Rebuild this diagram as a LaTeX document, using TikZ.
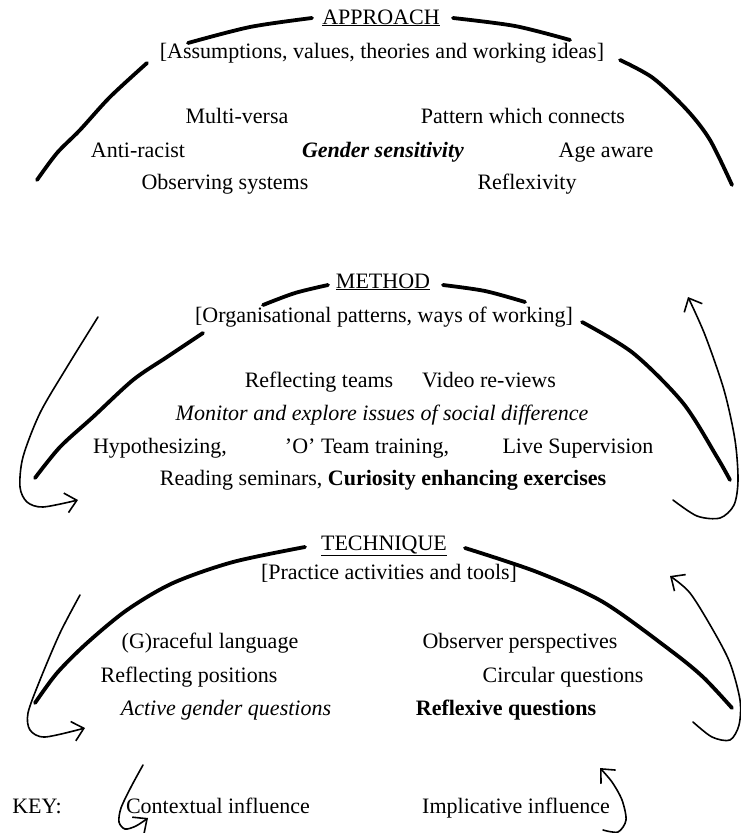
\documentclass[tikz,border=0pt]{standalone}
\usepackage{fontspec}
\setmainfont{Liberation Serif}
\usetikzlibrary{arrows.meta}
\tikzset{
  txt/.style={font=\fontsize{22}{26}\selectfont, inner sep=0pt, text height=15pt, text depth=5pt},
  arcline/.style={line width=3.8pt, line cap=round},
  infl/.style={line width=1.6pt, line cap=round, -{Straight Barb[length=11pt, width=20pt]}}
}
\begin{document}
\begin{tikzpicture}[x=1pt, y=-1pt]
  \useasboundingbox (0,0) rectangle (741,833);
  % approach
  \draw[arcline] plot[smooth] coordinates {(37,180) (57,153) (80,130) (110,97) (147,63)};
  \draw[arcline] plot[smooth] coordinates {(188,43) (250,27) (312,18)};
  \draw[arcline] plot[smooth] coordinates {(453,18) (515,26) (570,40)};
  \draw[arcline] plot[smooth] coordinates {(620,60) (653,78) (687,110) (710,140) (732,185)};
  \node[txt] (approach) at (381,19) {\underline{APPROACH}};
  \node[txt] (approachsub) at (382,53) {[Assumptions, values, theories and working ideas]};
  \node[txt] (multiversa) at (237,118) {Multi-versa};
  \node[txt] (pattern) at (523,118) {Pattern which connects};
  \node[txt] (antiracist) at (138,152) {Anti-racist};
  \node[txt] (gender) at (383,152) {\textbf{\textit{Gender sensitivity}}};
  \node[txt] (ageaware) at (606,152) {Age aware};
  \node[txt] (observing) at (225,184) {Observing systems};
  \node[txt] (reflexivity) at (527,184) {Reflexivity};
  % method
  \draw[arcline] plot[smooth] coordinates {(35,478) (60,447) (93,417) (133,380) (167,357) (203,333)};
  \draw[arcline] plot[smooth] coordinates {(263,305) (295,293) (328,285)};
  \draw[arcline] plot[smooth] coordinates {(443,285) (485,291) (525,302)};
  \draw[arcline] plot[smooth] coordinates {(582,322) (633,353) (683,403) (717,457) (730,480)};
  \node[txt] (method) at (383,283) {\underline{METHOD}};
  \node[txt] (methodsub) at (384,317) {[Organisational patterns, ways of working]};
  \node[txt] (reflteams) at (319,382) {Reflecting teams};
  \node[txt] (video) at (489,382) {Video re-views};
  \node[txt] (monitor) at (382,415) {\textit{Monitor and explore issues of social difference}};
  \node[txt] (hypo) at (160,448) {Hypothesizing,};
  \node[txt] (oteam) at (367,448) {'O' Team training,};
  \node[txt] (live) at (578,448) {Live Supervision};
  \node[txt] (reading) at (383,480) {Reading seminars, \textbf{Curiosity enhancing exercises}};
  % technique
  \draw[arcline] plot[smooth] coordinates {(35,703) (57,673) (87,643) (127,610) (173,583) (233,562) (305,547)};
  \draw[arcline] plot[smooth] coordinates {(465,548) (537,572) (603,602) (670,650) (703,677) (732,708)};
  \node[txt] (technique) at (384,545) {\underline{TECHNIQUE}};
  \node[txt] (techniquesub) at (389,574) {[Practice activities and tools]};
  \node[txt] (graceful) at (210,643) {(G)raceful language};
  \node[txt] (reflpos) at (189,677) {Reflecting positions};
  \node[txt] (active) at (226,710) {\textit{Active gender questions}};
  \node[txt] (observer) at (520,643) {Observer perspectives};
  \node[txt] (circular) at (563,677) {Circular questions};
  \node[txt] (reflexive) at (506,710) {\textbf{Reflexive questions}};
  % influences
  \draw[infl] plot[smooth] coordinates {(98,317) (67,367) (40,413) (23,457) (20,487) (27,502) (43,507) (78,500)};
  \draw[infl] plot[smooth] coordinates {(673,500) (697,516) (720,518) (734,505) (738,480) (735,440) (724,390) (705,335) (688,297)};
  \draw[infl] plot[smooth] coordinates {(80,595) (60,633) (40,680) (28,713) (30,730) (45,737) (85,728)};
  \draw[infl] plot[smooth] coordinates {(693,722) (712,737) (730,740) (739,725) (740,700) (730,663) (713,630) (690,593) (670,576)};
  % key
  \node[txt] (key) at (37,808) {KEY:};
  \node[txt] (contextual) at (218,808) {Contextual influence};
  \node[txt] (implicative) at (516,808) {Implicative influence};
  \draw[infl] plot[smooth] coordinates {(143,765) (131,787) (121,808) (119,822) (125,829) (136,826) (148,818)};
  \draw[infl] plot[smooth] coordinates {(603,830) (618,832) (626,820) (622,800) (612,782) (600,768)};
\end{tikzpicture}
\end{document}
